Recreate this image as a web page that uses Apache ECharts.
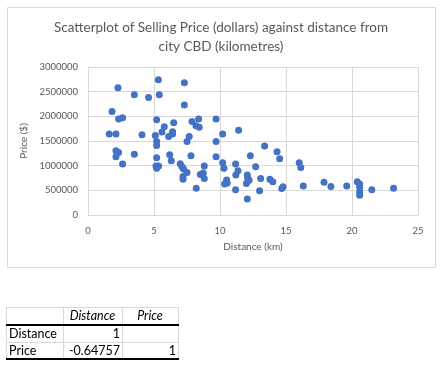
<!DOCTYPE html>
<html><head><meta charset="utf-8">
<script src="https://cdn.jsdelivr.net/npm/echarts@6/dist/echarts.min.js"></script>
<style>html,body{margin:0;padding:0;background:#fff}#c{width:442px;height:370px}</style>
</head><body><div id="c"></div>
<script>
const distance = [2.27,5.33,7.30,3.51,5.40,4.59,7.30,1.82,2.32,2.62,5.20,5.78,6.49,7.88,8.38,8.18,8.43,9.70,1.61,2.12,4.09,5.10,5.60,6.11,6.41,6.41,5.20,5.20,7.67,7.50,9.70,10.20,11.41,13.38,2.12,2.32,2.12,3.51,2.62,5.20,5.15,5.35,5.20,6.19,6.31,7.80,9.70,12.30,14.32,14.52,6.99,7.12,7.24,7.50,7.20,7.20,8.20,8.81,8.51,8.73,8.81,10.20,10.30,10.50,10.55,10.35,11.18,11.36,11.20,11.18,12.70,12.07,12.10,12.00,12.20,12.07,13.08,13.00,13.78,14.00,14.77,14.68,16.00,16.12,16.31,17.88,18.40,19.60,20.40,20.58,20.58,20.58,20.58,21.50,23.15];
const price = [2580000,2740000,2680000,2440000,2440000,2380000,2230000,2100000,1945000,1970000,1930000,1790000,1870000,1895000,1945000,1810000,1780000,1945000,1640000,1640000,1625000,1610000,1680000,1590000,1690000,1640000,1490000,1410000,1590000,1490000,1490000,1640000,1720000,1400000,1300000,1265000,1180000,1230000,1036000,1160000,995000,995000,950000,1220000,1100000,1200000,1180000,1200000,1280000,1140000,1040000,980000,930000,860000,780000,725000,540000,995000,820000,850000,740000,1060000,950000,710000,650000,630000,1036000,895000,810000,510000,980000,810000,745000,640000,705000,325000,740000,490000,725000,675000,575000,535000,1060000,965000,590000,665000,580000,590000,675000,630000,560000,470000,400000,510000,540000];
const tableHeaders = ['Distance','Price'];
const tableRows = ['Distance','Price'];
const corrValues = [['1',''],['-0.64757','1']];

const chart = echarts.init(document.getElementById('c'));
const font = 'Lato, "Liberation Sans", sans-serif';
const txt = '#595959';
const grid = '#d9d9d9';

const pts = distance.map((d,i)=>[d,price[i]]);

// table graphics
const colX = [6,63,122,178];
const rowY = [307,325,342,359];
const g = [];
g.push({type:'rect',shape:{x:7.5,y:7.5,width:428,height:260},style:{fill:'none',stroke:grid,lineWidth:1},z:-1});
colX.forEach(x=>g.push({type:'line',shape:{x1:x+0.5,y1:rowY[0],x2:x+0.5,y2:rowY[3]},style:{stroke:grid,lineWidth:1}}));
g.push({type:'line',shape:{x1:colX[0],y1:rowY[0]+0.5,x2:colX[3],y2:rowY[0]+0.5},style:{stroke:grid,lineWidth:1}});
g.push({type:'line',shape:{x1:colX[0],y1:rowY[2]+0.5,x2:colX[3],y2:rowY[2]+0.5},style:{stroke:grid,lineWidth:1}});
g.push({type:'line',shape:{x1:colX[0],y1:rowY[1],x2:colX[3]+1,y2:rowY[1]},style:{stroke:'#000',lineWidth:2},z:5});
g.push({type:'line',shape:{x1:colX[0],y1:rowY[3],x2:colX[3]+1,y2:rowY[3]},style:{stroke:'#000',lineWidth:2},z:5});
tableHeaders.forEach((h,i)=>g.push({type:'text',x:(colX[i+1]+colX[i+2])/2,y:(rowY[0]+rowY[1])/2,style:{text:h,font:'italic 12.5px '+font,fill:'#000',textAlign:'center',textVerticalAlign:'middle'}}));
tableRows.forEach((r,j)=>{
  const cy=(rowY[j+1]+rowY[j+2])/2;
  g.push({type:'text',x:colX[0]+3,y:cy,style:{text:r,font:'12.5px '+font,fill:'#000',textAlign:'left',textVerticalAlign:'middle'}});
  corrValues[j].forEach((v,k)=>{ if(v) g.push({type:'text',x:colX[k+2]-2,y:cy,style:{text:v,font:'12.5px '+font,fill:'#000',textAlign:'right',textVerticalAlign:'middle'}}); });
});

chart.setOption({
  backgroundColor:'#fff',
  animation:false,
  textStyle:{fontFamily:font},
  title:{text:'Scatterplot of Selling Price (dollars) against distance from\ncity CBD (kilometres)',left:'center',top:13,
    textStyle:{fontSize:13.5,fontWeight:'normal',color:txt,lineHeight:19,fontFamily:font}},
  grid:{left:88,right:24,top:67,bottom:155},
  xAxis:{type:'value',min:0,max:25,interval:5,name:'Distance (km)',nameLocation:'middle',nameGap:27,
    nameTextStyle:{color:txt,fontSize:10,fontFamily:font},
    axisLine:{show:true,lineStyle:{color:grid}},axisTick:{show:false},
    axisLabel:{color:txt,fontSize:9.5,margin:11,fontFamily:font},
    splitLine:{show:true,lineStyle:{color:grid,width:1}}},
  yAxis:{type:'value',min:0,max:3000000,interval:500000,name:'Price ($)',nameLocation:'middle',nameGap:48,nameRotate:90,
    nameTextStyle:{color:txt,fontSize:10,fontFamily:font},
    axisLine:{show:true,lineStyle:{color:grid}},axisTick:{show:false},
    axisLabel:{color:txt,fontSize:9.5,margin:10,formatter:v=>String(v),fontFamily:font},
    splitLine:{show:true,lineStyle:{color:grid,width:1}}},
  series:[{type:'scatter',data:pts,symbolSize:7,itemStyle:{color:'#4472C4',opacity:1}}],
  graphic:g
});
</script></body></html>
